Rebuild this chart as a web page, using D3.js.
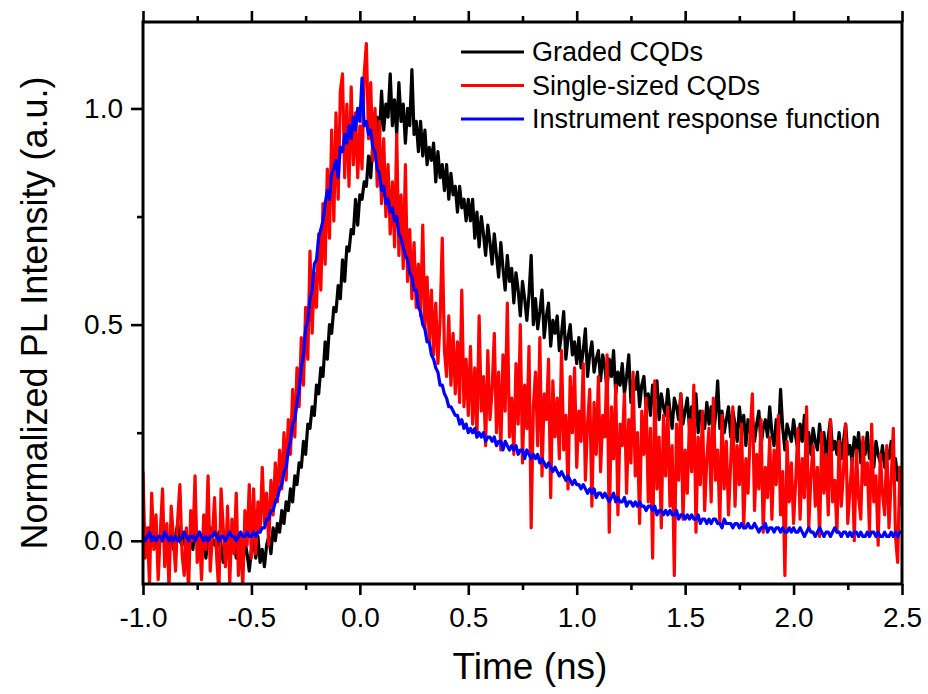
<!DOCTYPE html>
<html>
<head>
<meta charset="utf-8">
<script src="https://cdn.jsdelivr.net/npm/d3@7"></script>
<style>
  body { margin: 0; background: #fff; }
  text { font-family: Arial, 'Liberation Sans', sans-serif; fill: #000; }
</style>
</head>
<body>
<div id="chart"></div>
<script>
const width = 928
const height = 694
const margin = { top: 22, right: 26, bottom: 110, left: 143 }

// sampling of the traces: one point every 0.01 ns starting at -1.0 ns
const t0 = -1.0
const dt = 0.01

// normalized PL intensity, in units of 0.01 a.u.
const graded = [
  0,-2,1,3,-1,0,2,-3,1,0, 3,-1,0,2,-2,1,4,0,-1,2, -3,1,0,-2,3,1,-1,0,2,-4,
  1,3,-1,0,-2,2,-1,-5,1,0, -3,2,0,-4,1,-2,-6,0,-3,-7, -2,
  0,-4,1,-5,-2,-6,-1,1,-3,3, 0,4,2,7,4,9,7,12,9,15, 13,18,17,23,20,27,26,31,29,36,
  34,40,38,46,42,50,48,54,53,59, 56,65,60,68,67,72,71,79,73,80, 79,83,82,89,84,92,90,98,93,104,
  95,101,98,108,96,102,94,106,97,101, 92,100,96,109,94,97,90,97,89,95, 87,91,88,92,83,90,84,87,81,87,
  79,85,80,82,76,82,77,79,74,79,
  74,79,70,76,68,75,71,66,73,69, 64,71,66,61,69,63,58,66,60,63, 55,62,58,52,60,56,51,57,66,50,
  56,49,53,58,47,52,55,45,51,48, 52,44,48,53,42,47,50,43,46,41, 47,40,44,49,38,43,46,39,42,44,
  37,43,40,35,42,38,44,34,39,36, 41,34,38,43,32,37,35,39,31,36, 38,31,34,29,36,33,37,28,34,31,
  29,35,30,26,33,31,28,34,27,30, 33,26,31,28,34,25,30,29,26,32, 27,31,24,29,37,26,30,25,28,31,
  24,30,27,23,31,26,29,22,28,25, 29,23,27,30,22,26,28,24,31,25, 22,28,24,35,26,21,27,25,23,28,
  24,21,27,23,29,22,25,20,26,23, 21,27,22,25,19,24,28,21,23,20, 25,19,23,27,20,22,18,24,21,25,
  18,23,20,25,19,22,17,23,20,18, 22,17,21,19,23,16,19,14,17,13
]

const single = [
  16,-4,3,-10,11,-2,6,-9,2,12, -6,4,-11,8,1,-7,5,13,-3,-8, 3,-12,7,0,15,-5,2,-9,6,-2,
  15,-7,1,10,-4,-12,12,3,-6,8, -10,5,-3,11,-8,2,-11,7,-1,13, -4,
  12,-3,9,2,17,4,11,-1,14,6, 18,9,21,12,25,14,28,20,35,24, 40,31,47,36,54,42,67,48,62,54,
  71,58,78,64,86,70,95,74,99,79, 104,108,84,101,82,105,87,99,84,96, 86,108,115,93,106,88,100,82,97,78,
  93,75,87,71,83,68,94,66,80,63, 87,60,72,56,69,54,64,52,73,49, 61,46,58,43,55,41,51,70,44,38,
  52,36,48,34,46,32,58,31,42,29,
  45,27,40,24,52,30,38,22,44,28, 35,48,25,39,21,43,30,55,24,33, 20,41,27,50,18,36,26,45,3,31,
  39,22,47,15,34,28,42,10,37,24, 33,19,44,21,29,12,38,25,40,17, 30,23,41,14,27,35,8,32,20,38,
  16,29,24,43,2,31,19,36,6,27, 22,34,11,28,18,39,15,25,4,30, 20,33,9,26,-4,37,12,24,3,29,
  15,31,8,22,-8,27,14,34,5,21, 11,28,16,36,2,24,13,30,7,19, 26,9,33,14,21,4,29,12,23,6,
  18,31,8,22,13,27,3,19,11,25, 34,7,20,12,28,2,17,10,24,5, 21,13,29,6,16,-8,23,9,18,4,
  14,26,5,19,10,31,3,15,22,8, 17,1,25,11,20,6,28,9,14,2, 23,8,16,27,4,12,19,0,21,10,
  5,24,13,18,2,27,9,15,-1,20, 11,6,22,3,14,26,1,-5,17,8
]

const irf = [
  1,0,1,2,0,1,0,1,1,0, 2,1,0,1,0,1,0,0,1,2, 1,0,1,1,0,1,2,1,0,1,
  0,1,1,2,1,0,1,1,0,1, 2,1,1,0,1,2,1,1,2,1, 1,
  2,1,2,2,3,3,5,5,7,7, 9,10,12,13,16,17,21,23,27,28, 32,35,40,43,49,51,56,58,64,65,
  70,72,74,78,81,79,85,86,88,84, 91,90,94,92,96,93,98,95,100,97, 107,96,97,94,95,91,90,86,85,81,
  82,78,79,76,77,74,75,71,70,68, 66,65,62,61,58,58,54,53,50,49, 46,46,43,42,40,39,36,36,34,33,
  31,31,30,29,29,27,28,26,27,25,
  26,25,26,24,25,24,25,23,24,24, 23,24,22,23,23,21,23,22,21,22, 21,22,20,21,21,19,21,20,19,20,
  19,20,18,19,18,17,18,17,16,17, 16,15,16,15,14,15,14,13,14,13, 13,12,13,12,11,12,11,12,10,11,
  11,10,11,10,9,10,11,9,10,9, 9,10,8,9,9,8,9,8,9,8, 8,7,8,8,7,8,6,7,7,6,
  7,6,7,6,6,7,5,6,6,5, 6,5,6,5,5,6,4,5,5,4, 5,4,5,5,4,4,3,5,4,4,
  4,3,4,4,3,4,3,3,4,3, 3,4,3,2,3,3,4,2,3,3, 2,3,3,2,3,2,2,3,2,3,
  2,2,3,2,1,2,3,2,2,1, 2,3,2,1,2,2,1,2,3,2, 2,1,2,2,1,2,1,2,2,1,
  2,1,1,2,1,2,2,1,2,1, 1,2,1,1,2,1,2,1,2,2
]

const seriesNames = ['Graded CQDs', 'Single-sized CQDs', 'Instrument response function']
const seriesData = [graded, single, irf]
const seriesColors = ['#000000', '#ff0000', '#0000ff']

const xTicks = [-1, -0.5, 0, 0.5, 1, 1.5, 2, 2.5]
const xMinor = [-0.75, -0.25, 0.25, 0.75, 1.25, 1.75, 2.25]
const yTicks = [0, 0.5, 1]
const yMinor = [0.25, 0.75]

const svg = d3
  .select('#chart')
  .append('svg')
  .attr('width', width)
  .attr('height', height)

const x = d3.scaleLinear().domain([-1, 2.5]).range([margin.left, width - margin.right])
const y = d3.scaleLinear().domain([-0.1, 1.2]).range([height - margin.bottom, margin.top])

const plotTop = y(1.2)
const plotBottom = y(-0.1)

svg.append('clipPath')
  .attr('id', 'plot-clip')
  .append('rect')
  .attr('x', x(-1))
  .attr('y', plotTop)
  .attr('width', x(2.5) - x(-1))
  .attr('height', plotBottom - plotTop)

const line = d3.line()
  .x((d, i) => x(t0 + i * dt))
  .y(d => y(d / 100))

svg.append('g')
  .attr('clip-path', 'url(#plot-clip)')
  .selectAll('.trace')
  .data(seriesData)
  .enter()
  .append('path')
  .attr('class', 'trace')
  .attr('d', line)
  .attr('fill', 'none')
  .attr('stroke', (d, i) => seriesColors[i])
  .attr('stroke-width', 3.2)
  .attr('stroke-linejoin', 'round')

// axes
const styleAxis = g => {
  g.select('.domain').remove()
  g.selectAll('.tick line').attr('stroke-width', 2.6)
  g.selectAll('.tick text').attr('font-size', 28)
}

svg.append('g')
  .attr('transform', `translate(0,${plotBottom})`)
  .call(d3.axisBottom(x).tickValues(xTicks).tickFormat(d => d.toFixed(1)).tickSize(11).tickPadding(12))
  .call(styleAxis)
svg.append('g')
  .attr('transform', `translate(0,${plotBottom})`)
  .call(d3.axisBottom(x).tickValues(xMinor).tickFormat('').tickSize(6))
  .call(styleAxis)
svg.append('g')
  .attr('transform', `translate(0,${plotTop})`)
  .call(d3.axisTop(x).tickValues(xTicks).tickFormat('').tickSize(11))
  .call(styleAxis)
svg.append('g')
  .attr('transform', `translate(0,${plotTop})`)
  .call(d3.axisTop(x).tickValues(xMinor).tickFormat('').tickSize(6))
  .call(styleAxis)
svg.append('g')
  .attr('transform', `translate(${x(-1)},0)`)
  .call(d3.axisLeft(y).tickValues(yTicks).tickFormat(d => d.toFixed(1)).tickSize(12).tickPadding(8))
  .call(styleAxis)
svg.append('g')
  .attr('transform', `translate(${x(-1)},0)`)
  .call(d3.axisLeft(y).tickValues(yMinor).tickFormat('').tickSize(6))
  .call(styleAxis)

svg.append('rect')
  .attr('x', x(-1))
  .attr('y', plotTop)
  .attr('width', x(2.5) - x(-1))
  .attr('height', plotBottom - plotTop)
  .attr('fill', 'none')
  .attr('stroke', '#000')
  .attr('stroke-width', 3)

// axis titles
svg.append('text')
  .attr('x', 530)
  .attr('y', 679)
  .attr('text-anchor', 'middle')
  .attr('font-size', 37)
  .text('Time (ns)')

svg.append('text')
  .attr('transform', 'translate(47,313) rotate(-90)')
  .attr('text-anchor', 'middle')
  .attr('font-size', 36)
  .text('Normalized PL Intensity (a.u.)')

// legend
const legendY = [52, 85.5, 119]
const legend = svg.selectAll('.legend')
  .data(seriesNames)
  .enter()
  .append('g')
  .attr('class', 'legend')
  .attr('transform', (d, i) => `translate(461,${legendY[i]})`)

legend.append('line')
  .attr('x1', 0)
  .attr('x2', 63)
  .attr('stroke', (d, i) => seriesColors[i])
  .attr('stroke-width', 3)

legend.append('text')
  .attr('x', 71)
  .attr('dy', '0.35em')
  .attr('font-size', 27)
  .text(d => d)
</script>
</body>
</html>
